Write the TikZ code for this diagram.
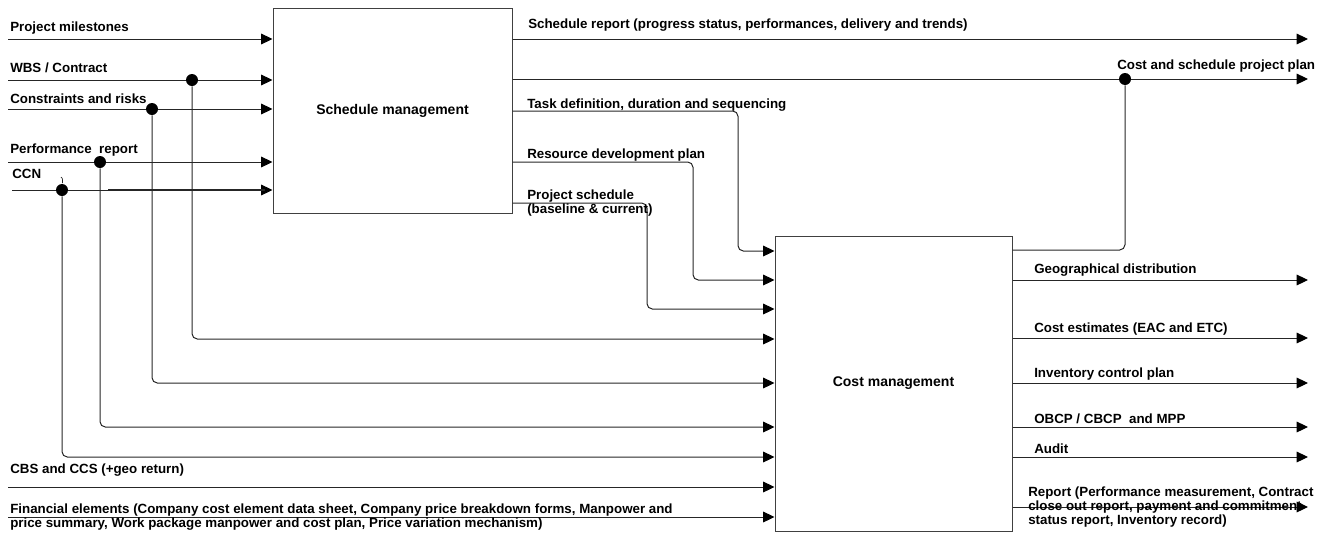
\documentclass[tikz,border=0pt]{standalone}
\usepackage{fontspec}
\setmainfont{Liberation Sans}
\usetikzlibrary{arrows.meta}
\begin{document}
\begin{tikzpicture}[x=0.75pt,y=-0.75pt,
  line/.style={draw=black!85, line width=0.75pt},
  flow/.style={line, -{Triangle[length=8.5pt,width=8pt,color=black]}},
  roundturn/.style={rounded corners=4pt},
  procbox/.style={draw=black!75, line width=0.75pt, fill=white,
    font=\fontsize{10.5}{12}\selectfont\bfseries},
  dot/.style={circle, fill=black, inner sep=0pt, minimum size=9pt},
  lbl/.style={anchor=base west, inner sep=0pt,
    font=\fontsize{10}{10.4}\selectfont\bfseries, align=left},
]
\useasboundingbox (0,0) rectangle (1331,536);

% the two activity boxes
\node[procbox, minimum width=179.25pt, minimum height=153.75pt] (sm) at (392.5,110.5) {Schedule management};
\node[procbox, minimum width=177.75pt, minimum height=221.25pt] (cm) at (893.5,383.5) {Cost management};

% free ends of the inputs
\coordinate (pm)   at (8,39);
\coordinate (wbs)  at (8,80);
\coordinate (cr)   at (8,109);
\coordinate (pr)   at (8,162);
\coordinate (ccn)  at (12,190);
\coordinate (cbs)  at (8,487);
\coordinate (fin)  at (8,517);

% inputs of schedule management
\draw[flow] (pm)  -- (pm  -| sm.west);
\draw[flow] (wbs) -- (wbs -| sm.west);
\draw[flow] (cr)  -- (cr  -| sm.west);
\draw[flow] (pr)  -- (pr  -| sm.west);
\draw[flow] (ccn) -- (ccn -| sm.west);
\draw[line, line width=1.2pt] (108,190) -- (265,190);
\draw[line, line width=0.5pt] (61,177) .. controls (62.5,178) .. (62.5,183);

% junctions feeding cost management
\node[dot] (jw) at (192,80) {};
\node[dot] (jc) at (152,109) {};
\node[dot] (jp) at (100,162) {};
\node[dot] (jn) at (62,190) {};
\draw[flow, roundturn] (jw) |- (cm.west |- 0,339);
\draw[flow, roundturn] (jc) |- (cm.west |- 0,383);
\draw[flow, roundturn] (jp) |- (cm.west |- 0,427);
\draw[flow, roundturn] (jn) |- (cm.west |- 0,457);
\draw[flow] (cbs) -- (cbs -| cm.west);
\draw[flow] (fin) -- (fin -| cm.west);

% schedule management towards cost management
\draw[flow, roundturn] (sm.east |- 0,111) -| (738,251) -- (cm.west |- 0,251);
\draw[flow, roundturn] (sm.east |- 0,162) -| (693,280) -- (cm.west |- 0,280);
\draw[flow, roundturn] (sm.east |- 0,203) -| (647,309) -- (cm.west |- 0,309);

% outputs on the right
\coordinate (sr)  at (1308,39);
\coordinate (csp) at (1308,79);
\coordinate (geo) at (1308,280);
\coordinate (ce)  at (1308,338);
\coordinate (icp) at (1308,383);
\coordinate (ob)  at (1308,427);
\coordinate (au)  at (1308,457);
\coordinate (rep) at (1308,507);
\draw[flow] (sm.east |- sr)  -- (sr);
\draw[flow] (sm.east |- csp) -- (csp);
\node[dot] (jcs) at (1125,79) {};
\draw[line, roundturn] (cm.east |- 0,250) -| (jcs);
\draw[flow] (cm.east |- geo) -- (geo);
\draw[flow] (cm.east |- ce)  -- (ce);
\draw[flow] (cm.east |- icp) -- (icp);
\draw[flow] (cm.east |- ob)  -- (ob);
\draw[flow] (cm.east |- au)  -- (au);
\draw[flow] (cm.east |- rep) -- (rep);

% input labels (multi-line labels sit on their last baseline)
\node[lbl] (t1) at (10,31)  {Project milestones};
\node[lbl] (t2) at (10,72)  {WBS / Contract};
\node[lbl] (t3) at (10,103) {Constraints and risks};
\node[lbl] (t4) at (10,153) {Performance \ report};
\node[lbl] (t5) at (12,178) {CCN};
\node[lbl] (t6) at (10,473) {CBS and CCS (+geo return)};
\node[lbl] (t7) at (10,527) {Financial elements (Company cost element data sheet, Company price breakdown forms, Manpower and\\price summary, Work package manpower and cost plan, Price variation mechanism)};

% output labels
\node[lbl] (t8)  at (528,28)  {Schedule report (progress status, performances, delivery and trends)};
\node[lbl] (t9)  at (1117,69) {Cost and schedule project plan};
\node[lbl] (t10) at (527,108) {Task definition, duration and sequencing};
\node[lbl] (t11) at (527,158) {Resource development plan};
\node[lbl] (t12) at (527,213) {Project schedule\\(baseline \& current)};
\node[lbl] (t13) at (1034,273) {Geographical distribution};
\node[lbl] (t14) at (1034,332) {Cost estimates (EAC and ETC)};
\node[lbl] (t15) at (1034,377) {Inventory control plan};
\node[lbl] (t16) at (1034,423) {OBCP / CBCP \ and MPP};
\node[lbl] (t17) at (1034,453) {Audit};
\node[lbl] (t18) at (1028,524) {Report (Performance measurement, Contract\\close out report, payment and commitment\\status report, Inventory record)};
\end{tikzpicture}
\end{document}
